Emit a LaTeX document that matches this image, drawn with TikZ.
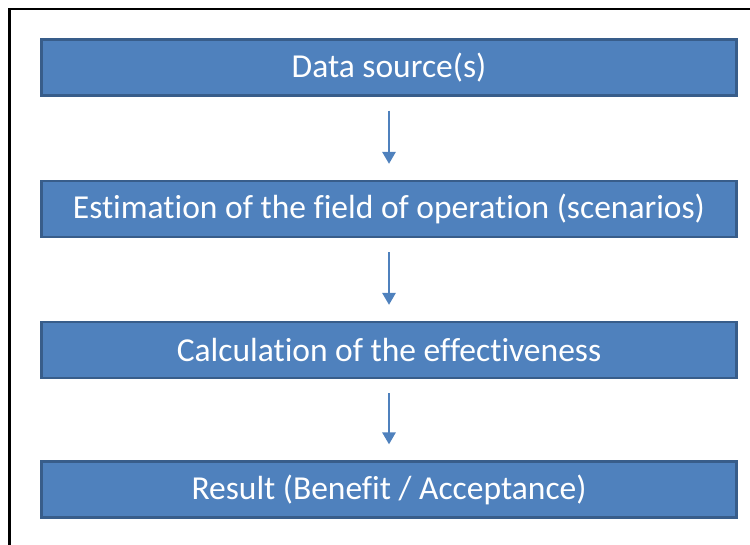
\documentclass[tikz,border=0pt]{standalone}
\usepackage{fontspec}
\setmainfont[Ligatures=NoCommon]{Carlito}
\usetikzlibrary{arrows.meta}

\definecolor{boxfill}{HTML}{4F81BD}
\definecolor{boxline}{HTML}{385D8A}

\tikzset{
  stagebox/.style={draw=boxline, line width=2.2pt, fill=boxfill, text=white,
    minimum width=695pt, minimum height=56pt, inner sep=0pt,
    font=\fontsize{33.5}{38}\selectfont},
  flowarrow/.style={draw=boxfill, line width=2.7pt,
    -{Triangle[length=12pt,width=13pt]}, shorten <=14pt, shorten >=16pt}
}

\begin{document}
\begin{tikzpicture}[x=1pt,y=-1pt]
            % page frame
            \useasboundingbox (0,0) rectangle (750,544);
            \clip (0,0) rectangle (750,544);
            \draw[line width=2.5pt] (9.5,9) rectangle (770,570);

            % stages
            \node[stagebox] (source) at (389,67.5) {Data source(s)};
            \node[stagebox] (field) at (389,209) {Estimation of the field of operation (scenarios)};
            \node[stagebox] (calc) at (389,350) {Calculation of the effectiveness};
            \node[stagebox] (result) at (389,489.5) {Result (Benefit / Acceptance)};

            % arrows
            \draw[flowarrow] (source.south) -- (field.north);
            \draw[flowarrow] (field.south) -- (calc.north);
            \draw[flowarrow] (calc.south) -- (result.north);
        \end{tikzpicture}
\end{document}
